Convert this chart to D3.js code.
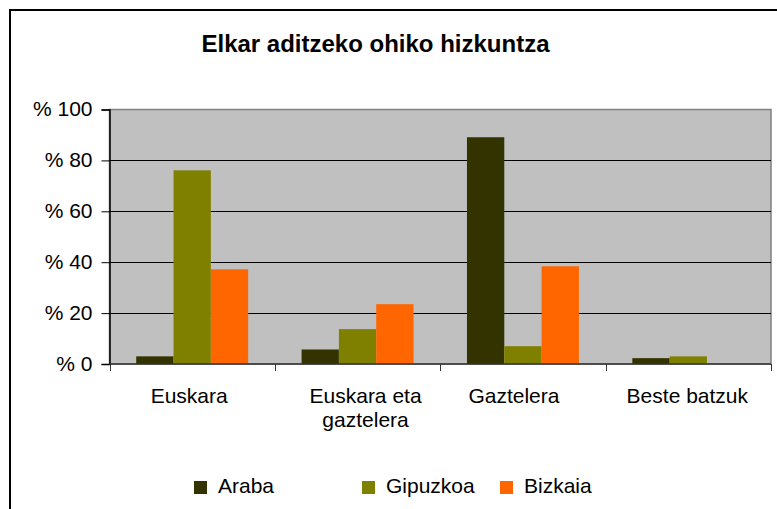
<!DOCTYPE html>
<html>
<head>
<meta charset="utf-8">
<script src="https://cdn.jsdelivr.net/npm/d3@7"></script>
<style>
  body { margin: 0; background: #fff; }
  svg { display: block; font-family: Arial, "Liberation Sans", sans-serif; }
</style>
</head>
<body>
<div id="chart-area"></div>
<script>
// data
var categories = ["Euskara", "Euskara eta gaztelera", "Gaztelera", "Beste batzuk"];
var series = ["Araba", "Gipuzkoa", "Bizkaia"];
var araba    = [3.0, 5.7, 89.1, 2.3];
var gipuzkoa = [76.1, 13.7, 7.0, 3.0];
var bizkaia  = [37.2, 23.5, 38.4, 0];
var yTicks = [0, 20, 40, 60, 80, 100];

var colors = ["#333300", "#808000", "#ff6600"];
var values = [araba, gipuzkoa, bizkaia];

// layout
var width = 777, height = 509;
var plot = {left: 109.5, top: 109.5, right: 771, bottom: 364};
var labelNudge = [-3, 8, -9, -1];
var legendX = [194, 362, 500];

var svg = d3.select("#chart-area").append("svg")
    .attr("width", width)
    .attr("height", height);

// outer frame (runs off the right and bottom edge)
svg.append("rect")
    .attr("x", 10).attr("y", 10)
    .attr("width", 900).attr("height", 700)
    .attr("fill", "none")
    .attr("stroke", "#000")
    .attr("stroke-width", 2);

svg.append("text")
    .attr("x", 375.5)
    .attr("y", 52)
    .attr("text-anchor", "middle")
    .attr("font-size", "24px")
    .attr("font-weight", "bold")
    .text("Elkar aditzeko ohiko hizkuntza");

var x0 = d3.scaleBand()
    .domain(categories)
    .range([plot.left, plot.right]);

var bw = x0.bandwidth();
var gw = bw * 0.677;
var x1 = d3.scaleBand()
    .domain(series)
    .range([(bw - gw) / 2, (bw + gw) / 2]);

var y = d3.scaleLinear()
    .domain([0, 100])
    .range([plot.bottom, plot.top]);

// plot background
svg.append("rect")
    .attr("x", plot.left)
    .attr("y", plot.top)
    .attr("width", plot.right - plot.left)
    .attr("height", plot.bottom - plot.top)
    .attr("fill", "#c0c0c0")
    .attr("stroke", "#808080")
    .attr("stroke-width", 1.5);

// gridlines
svg.selectAll("line.grid")
    .data(yTicks.filter(function(t){ return t > 0 && t < 100; }))
    .enter()
    .append("line")
        .attr("class", "grid")
        .attr("x1", plot.left)
        .attr("x2", plot.right)
        .attr("y1", function(d){ return Math.round(y(d)) + 0.5; })
        .attr("y2", function(d){ return Math.round(y(d)) + 0.5; })
        .attr("stroke", "#000")
        .attr("stroke-width", 1);

// bars
var rows = categories.map(function(c, i){
    return series.map(function(s, j){
        return {cat: c, key: s, value: values[j][i], color: colors[j]};
    });
});

var groups = svg.selectAll("g.group")
    .data(rows)
    .enter()
    .append("g")
        .attr("class", "group")
        .attr("transform", function(d, i){ return "translate(" + x0(categories[i]) + ",0)"; });

groups.selectAll("rect")
    .data(function(d){ return d; })
    .enter()
    .append("rect")
        .attr("x", function(d){ return x1(d.key); })
        .attr("width", x1.bandwidth())
        .attr("y", function(d){ return y(d.value); })
        .attr("height", function(d){ return y(0) - y(d.value); })
        .attr("fill", function(d){ return d.color; });

// y axis
var yAxis = svg.append("g")
    .attr("transform", "translate(" + plot.left + ",0)")
    .call(d3.axisLeft(y)
        .tickValues(yTicks)
        .tickSize(8)
        .tickPadding(9)
        .tickFormat(function(d){ return "% " + d; }));
yAxis.select(".domain").attr("stroke", "#000").attr("stroke-width", 1.5);
yAxis.selectAll(".tick line").attr("stroke", "#000");
yAxis.selectAll("text")
    .attr("font-size", "21px")
    .attr("font-family", "Arial, 'Liberation Sans', sans-serif")
    .attr("fill", "#000")
    .attr("dy", "0.3em");

// x axis line + ticks at band edges
svg.append("line")
    .attr("x1", plot.left).attr("x2", plot.right)
    .attr("y1", plot.bottom).attr("y2", plot.bottom)
    .attr("stroke", "#333")
    .attr("stroke-width", 1.5);

var edges = categories.map(function(c){ return x0(c); }).concat([plot.right]);
svg.selectAll("line.xtick")
    .data(edges)
    .enter()
    .append("line")
        .attr("class", "xtick")
        .attr("x1", function(d){ return Math.round(d) + 0.5; })
        .attr("x2", function(d){ return Math.round(d) + 0.5; })
        .attr("y1", plot.bottom)
        .attr("y2", plot.bottom + 7)
        .attr("stroke", "#333")
        .attr("stroke-width", 1);

// category labels, wrapped the way the picture does it
var labelLines = [["Euskara"], ["Euskara eta", "gaztelera"], ["Gaztelera"], ["Beste batzuk"]];
var catLabels = svg.selectAll("text.cat")
    .data(categories)
    .enter()
    .append("text")
        .attr("class", "cat")
        .attr("text-anchor", "middle")
        .attr("font-size", "21px")
        .attr("y", 402.5);

catLabels.each(function(d, i){
    var t = d3.select(this);
    var cx = x0(d) + bw / 2 + labelNudge[i];
    labelLines[i].forEach(function(line, k){
        t.append("tspan")
            .attr("x", cx)
            .attr("dy", k === 0 ? 0 : 24.5)
            .text(line);
    });
});

// legend
var legend = svg.selectAll("g.legend")
    .data(series)
    .enter()
    .append("g")
        .attr("class", "legend")
        .attr("transform", function(d, i){ return "translate(" + legendX[i] + ",481)"; });

legend.append("rect")
    .attr("width", 13)
    .attr("height", 13)
    .attr("fill", function(d, i){ return colors[i]; });

legend.append("text")
    .attr("x", 24)
    .attr("y", 11.5)
    .attr("font-size", "21px")
    .text(function(d){ return d; });
</script>
</body>
</html>
